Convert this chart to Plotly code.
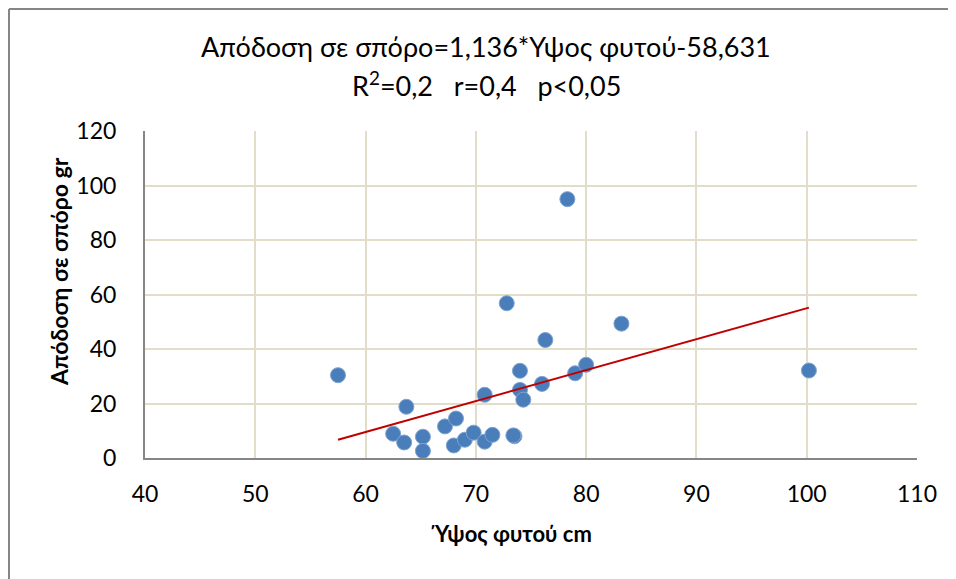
import plotly.graph_objects as go

height_cm = [57.5, 63.7, 62.5, 63.5, 65.2, 65.2, 67.2, 68.2, 68.0, 69.0, 69.8, 70.8, 70.8,
             71.5, 72.8, 73.5, 73.4, 74.0, 74.0, 74.3, 76.0, 76.3, 79.0, 80.0, 83.2, 78.3, 100.2]
yield_gr = [30.4, 18.8, 8.9, 5.7, 7.8, 2.6, 11.6, 14.5, 4.6, 6.7, 9.3, 6.0, 23.2,
            8.5, 56.8, 8.0, 8.3, 32.0, 25.0, 21.4, 27.2, 43.3, 31.1, 34.2, 49.3, 95.0, 32.1]

slope = 1.136
intercept = -58.631
trend_x = [min(height_cm), max(height_cm)]
trend_y = [slope * v + intercept for v in trend_x]

title_lines = ["Απόδοση σε σπόρο=1,136*Υψος φυτού-58,631",
               "R<sup>2</sup>=0,2   r=0,4   p<0,05"]
x_title = "Ύψος φυτού cm"
y_title = "Απόδοση σε σπόρο gr"
x_ticks = [40, 50, 60, 70, 80, 90, 100, 110]
y_ticks = [0, 20, 40, 60, 80, 100, 120]

FONT = "Lato, Carlito, Calibri, sans-serif"
GRID = "#E1DDC9"
AXIS = "#868686"

W, H = 956, 579
ML, MR, MT, MB = 137, 47, 123, 129
PW, PH = W - ML - MR, H - MT - MB


def px_x(fx):
    return (fx - ML) / PW


def px_y(fy):
    return 1 - (fy - MT) / PH


fig = go.Figure()
fig.add_trace(go.Scatter(
    x=height_cm, y=yield_gr, mode="markers",
    marker=dict(size=15, color="#4A7EBB", line=dict(width=1, color="#7FA3D0")),
    showlegend=False, hoverinfo="x+y"))
fig.add_trace(go.Scatter(
    x=trend_x, y=trend_y, mode="lines",
    line=dict(color="#C00000", width=2), showlegend=False, hoverinfo="skip"))

edge_left = -ML / PW + 1 / PW
edge_top = 1 + MT / PH - 1 / PH

annotations = [
    dict(text=title_lines[0], x=px_x(478), y=px_y(38), xanchor="center", yanchor="middle",
         font=dict(family=FONT, size=27, color="#000000")),
    dict(text=title_lines[1], x=px_x(478), y=px_y(76), xanchor="center", yanchor="middle",
         font=dict(family=FONT, size=27, color="#000000")),
    dict(text="<b>" + x_title + "</b>", x=px_x(503), y=px_y(525), xanchor="center",
         yanchor="middle", font=dict(family=FONT, size=22, color="#000000")),
    dict(text="<b>" + y_title + "</b>", x=px_x(51), y=px_y(264), xanchor="center",
         yanchor="middle", textangle=-90, font=dict(family=FONT, size=23, color="#000000")),
]
for a in annotations:
    a.update(xref="paper", yref="paper", showarrow=False)

fig.update_layout(
    width=W, height=H,
    margin=dict(l=ML, r=MR, t=MT, b=MB),
    paper_bgcolor="white", plot_bgcolor="white",
    font=dict(family=FONT, size=23, color="#000000"),
    xaxis=dict(range=[40, 110], tickvals=x_ticks, ticktext=[str(v) for v in x_ticks],
               showgrid=True, gridcolor=GRID, gridwidth=2,
               showline=True, linecolor=AXIS, linewidth=2, mirror=False,
               zeroline=False, ticks="", ticklabelstandoff=14,
               tickfont=dict(size=23)),
    yaxis=dict(range=[0, 120], tickvals=y_ticks, ticktext=[str(v) for v in y_ticks],
               showgrid=True, gridcolor=GRID, gridwidth=2,
               showline=True, linecolor=AXIS, linewidth=2,
               zeroline=False, ticks="", ticklabelstandoff=22,
               tickfont=dict(size=23)),
    annotations=annotations,
    shapes=[
        dict(type="line", xref="paper", yref="paper", x0=edge_left, x1=1 + MR / PW,
             y0=edge_top, y1=edge_top, line=dict(color=AXIS, width=2)),
        dict(type="line", xref="paper", yref="paper", x0=edge_left, x1=edge_left,
             y0=-MB / PH, y1=edge_top, line=dict(color=AXIS, width=2)),
    ],
)
fig.write_html("out.html")
